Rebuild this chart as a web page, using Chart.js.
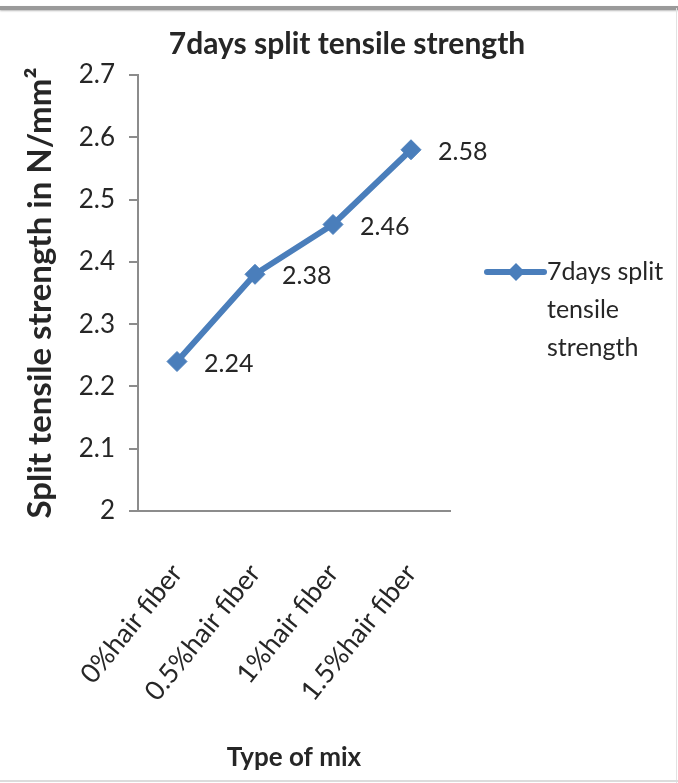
<!DOCTYPE html>
<html>
<head>
<meta charset="utf-8">
<script src="https://cdn.jsdelivr.net/npm/chart.js@4.4.0/dist/chart.umd.min.js"></script>
<style>
  html, body { margin: 0; padding: 0; background: #fff; }
  #wrap { position: relative; width: 678px; height: 783px; overflow: hidden; }
  #c { position: absolute; left: 0; top: 0; }
  .top { position: absolute; left: 0; top: 6px; width: 678px; height: 4px; background: #9a9a9a; box-shadow: 0 1px 2px #bbb; }
  .right { position: absolute; right: 1px; top: 8px; width: 1px; height: 775px; background: #e2e2e2; }
  .bottom { position: absolute; left: 0; bottom: 1px; width: 678px; height: 2px; background: #dcdcdc; }
</style>
</head>
<body>
<div id="wrap">
  <canvas id="c" width="678" height="783"></canvas>
  <div class="top"></div><div class="right"></div><div class="bottom"></div>
</div>
<script>
const categories = ["0%hair fiber", "0.5%hair fiber", "1%hair fiber", "1.5%hair fiber"];
const strength7 = [2.24, 2.38, 2.46, 2.58];
const seriesName = "7days split tensile strength";
const legendLines = ["7days split", "tensile", "strength"];
const chartTitle = "7days split tensile strength";
const yTitle = "Split tensile strength in N/mm\u00B2";
const xTitle = "Type of mix";

const FONT = "Lato, 'Open Sans', sans-serif";
const BLUE = "#4A7EBB";
const TXT = "#262626";

const titlePlugin = {
  id: 'topTitle',
  afterDraw(chart) {
    const ctx = chart.ctx;
    ctx.save();
    ctx.font = "bold 30px " + FONT;
    ctx.fillStyle = TXT;
    ctx.textAlign = 'center';
    ctx.textBaseline = 'middle';
    ctx.fillText(chartTitle, 347, 44);
    ctx.restore();
  }
};

const dataLabels = {
  id: 'dataLabels',
  afterDatasetsDraw(chart) {
    const ctx = chart.ctx;
    const meta = chart.getDatasetMeta(0);
    ctx.save();
    ctx.font = "25px " + FONT;
    ctx.fillStyle = TXT;
    ctx.textAlign = 'left';
    ctx.textBaseline = 'middle';
    meta.data.forEach((pt, i) => {
      ctx.fillText(String(strength7[i]), pt.x + 27, pt.y + 2);
    });
    ctx.restore();
  }
};

const sideLegend = {
  id: 'sideLegend',
  afterDraw(chart) {
    const ctx = chart.ctx;
    const x0 = chart.chartArea.right + 37, y0 = 272;
    ctx.save();
    ctx.strokeStyle = BLUE;
    ctx.lineWidth = 6;
    ctx.lineCap = 'round';
    ctx.beginPath(); ctx.moveTo(x0, y0); ctx.lineTo(x0 + 57, y0); ctx.stroke();
    ctx.fillStyle = BLUE;
    const cx = x0 + 29, r = 9;
    ctx.beginPath(); ctx.moveTo(cx, y0 - r); ctx.lineTo(cx + r, y0); ctx.lineTo(cx, y0 + r); ctx.lineTo(cx - r, y0); ctx.closePath(); ctx.fill();
    ctx.font = "25px " + FONT;
    ctx.fillStyle = TXT;
    ctx.textBaseline = 'middle';
    ctx.textAlign = 'left';
    legendLines.forEach((t, i) => ctx.fillText(t, x0 + 60, y0 + i * 38));
    ctx.restore();
  }
};

new Chart(document.getElementById('c'), {
  type: 'line',
  data: {
    labels: categories,
    datasets: [{
      label: seriesName,
      data: strength7,
      borderColor: BLUE,
      backgroundColor: BLUE,
      borderWidth: 6,
      pointStyle: 'rectRot',
      pointRadius: 10,
      pointHoverRadius: 10,
      pointBackgroundColor: BLUE,
      pointBorderColor: BLUE,
      pointBorderWidth: 1,
      tension: 0
    }]
  },
  options: {
    responsive: false,
    animation: false,
    devicePixelRatio: 1,
    layout: { padding: { left: 0, right: 228, top: 75, bottom: 0 } },
    plugins: {
      legend: { display: false },
      tooltip: { enabled: false },
      title: { display: false }
    },
    scales: {
      x: {
        offset: true,
        grid: { display: false, drawTicks: false },
        border: { display: true, color: '#8c8c8c', width: 2 },
        ticks: {
          color: TXT,
          font: { family: FONT, size: 27 },
          minRotation: 51, maxRotation: 51,
          autoSkip: false,
          padding: 47
        },
        title: {
          display: true, text: xTitle, color: TXT,
          font: { family: FONT, size: 26, weight: 'bold' },
          padding: { top: 4, bottom: 10 }
        },
        afterFit(scale) { scale.height = 272; }
      },
      y: {
        min: 2, max: 2.7,
        grid: { drawOnChartArea: false, drawTicks: true, tickLength: 9, color: '#8c8c8c', lineWidth: 2 },
        border: { display: true, color: '#8c8c8c', width: 2 },
        ticks: {
          stepSize: 0.1,
          color: TXT,
          font: { family: FONT, size: 26 },
          padding: 14,
          callback: (v) => String(Math.round(v * 10) / 10)
        },
        title: {
          display: true, text: yTitle, color: TXT,
          font: { family: FONT, size: 33, weight: 'bold' },
          padding: { top: 21, bottom: 0 }
        },
        afterFit(scale) { scale.width = 138; }
      }
    }
  },
  plugins: [titlePlugin, dataLabels, sideLegend]
});
</script>
</body>
</html>
